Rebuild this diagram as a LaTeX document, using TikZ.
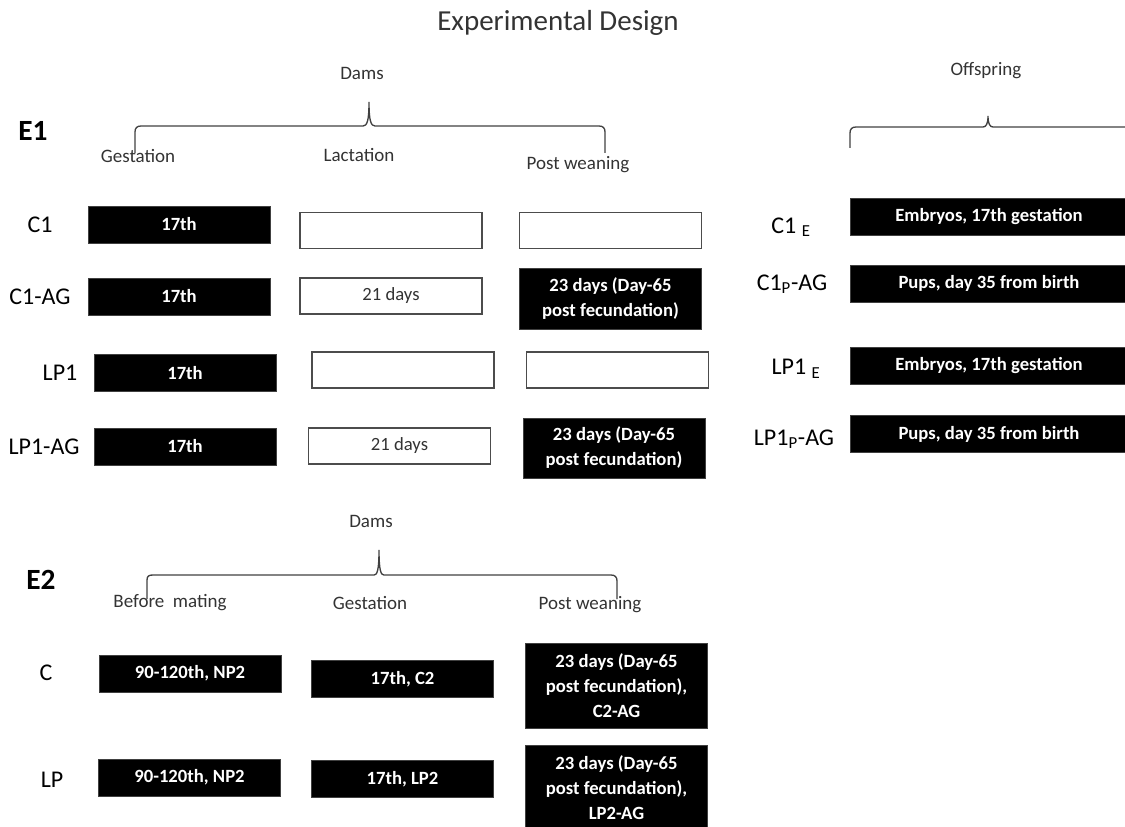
\documentclass[tikz,border=0pt]{standalone}
\usepackage{fontspec}
\setmainfont{Carlito}
\usepackage{tikz}

\newcommand{\ttlfont}{\fontsize{21.75}{26}\selectfont}
\newcommand{\hdfont}{\fontsize{14.25}{17}\selectfont}
\newcommand{\rowfont}{\fontsize{18}{21}\selectfont}
\newcommand{\exfont}{\fontsize{22}{26}\selectfont\bfseries}
\newcommand{\bxfont}{\fontsize{14}{18.75}\selectfont\bfseries}

\begin{document}
\begin{tikzpicture}[x=0.75pt,y=0.75pt,yscale=-1,xscale=1,
	blackbox/.style={draw=black!75,line width=0.6pt,fill=black,text=white,font=\bxfont,align=center,inner sep=0pt,minimum width=136.5pt,minimum height=27.75pt},
	whitebox/.style={draw=black!70,line width=1.1pt,fill=white,font=\fontsize{14}{17}\selectfont,text=black!80,inner sep=0pt,minimum width=136.5pt,minimum height=27pt},
	kidbox/.style={blackbox,minimum width=208pt},
	rowlab/.style={font=\rowfont,inner sep=0pt},
	headlab/.style={font=\hdfont,text=black!80,inner sep=0pt},
	brace/.style={draw=black!75,line width=1pt}]
				\useasboundingbox (0,0) rectangle (1125,827); %set diagram to 1125 x 827

				% Title
				\node (title) at (558,23) [font=\ttlfont,text=black!80,inner sep=0pt] {Experimental Design};

				%%% E1 %%%
				% Text Node
				\node (e1) at (33,131) [font=\exfont,inner sep=0pt] {E1};
				% Text Node
				\node (dams1) at (362,73) [headlab] {Dams};
				% Text Node
				\node (offs) at (986,71) [headlab] {Offspring};
				%Curve Lines: brace of dams
				\draw [brace] (135,153) -- (135,132) .. controls (135,128) and (137,126) .. (141,126) -- (363,126) .. controls (367,126) and (369,121) .. (369,102) .. controls (369,121) and (371,126) .. (375,126) -- (599,126) .. controls (603,126) and (605,128) .. (605,132) -- (605,153) ;
				%Curve Lines: brace of offspring
				\draw [brace] (850,148) -- (850,133) .. controls (850,129) and (852,127) .. (856,127) -- (983,127) .. controls (986,127) and (988,124) .. (988,116) .. controls (988,124) and (990,127) .. (993,127) -- (1130,127) ;
				% Text Node
				\node (gest1) at (138,156) [headlab] {Gestation};
				% Text Node
				\node (lact1) at (359,155) [headlab] {Lactation};
				% Text Node
				\node (post1) at (578,165) [headlab] {Post weaning};

				% Row C1
				\node (c1) at (40,225) [rowlab] {C1};
				\node (c1g) at (179,224.5) [blackbox] {17th};
				\node (c1l) at (391,230.5) [whitebox] {};
				\node (c1w) at (610.5,230.5) [whitebox] {};
				% Row C1-AG
				\node (c1ag) at (40,297) [rowlab] {C1-AG};
				\node (c1agg) at (179,296.5) [blackbox] {17th};
				\node (c1agl) at (391,296) [whitebox] {21 days};
				\node (c1agw) at (610.5,298.5) [blackbox,minimum height=45.75pt] {23 days (Day-65\\post fecundation)};
				% Row LP1
				\node (lp1) at (60,373) [rowlab] {LP1};
				\node (lp1g) at (185,373) [blackbox] {17th};
				\node (lp1l) at (403,370) [whitebox] {};
				\node (lp1w) at (617.5,370) [whitebox] {};
				% Row LP1-AG
				\node (lp1ag) at (44,447) [rowlab] {LP1-AG};
				\node (lp1agg) at (185,446.5) [blackbox] {17th};
				\node (lp1agl) at (399.5,446) [whitebox] {21 days};
				\node (lp1agw) at (614,448) [blackbox,minimum height=45pt] {23 days (Day-65\\post fecundation)};

				% Offspring rows
				\node (c1e) at (791,227) [rowlab] {C1 \textsubscript{E}};
				\node (c1eb) at (989,217) [kidbox] {Embryos, 17th gestation};
				\node (c1p) at (792,284) [rowlab] {C1\textsubscript{P}-AG};
				\node (c1pb) at (989,283.5) [kidbox] {Pups, day 35 from birth};
				\node (lp1e) at (796,369) [rowlab] {LP1 \textsubscript{E}};
				\node (lp1eb) at (989,365.5) [kidbox] {Embryos, 17th gestation};
				\node (lp1p) at (794,439) [rowlab] {LP1\textsubscript{P}-AG};
				\node (lp1pb) at (989,434) [kidbox] {Pups, day 35 from birth};

				%%% E2 %%%
				% Text Node
				\node (e2) at (41,580) [font=\exfont,inner sep=0pt] {E2};
				% Text Node
				\node (dams2) at (371,521) [headlab] {Dams};
				%Curve Lines: brace of dams
				\draw [brace] (147,599) -- (147,580) .. controls (147,576) and (149,575) .. (153,575) -- (374,575) .. controls (377,575) and (379,571) .. (379,550) .. controls (379,571) and (381,575) .. (384,575) -- (611,575) .. controls (615,575) and (617,577) .. (617,581) -- (617,599) ;
				% Text Node
				\node (before2) at (170,603) [headlab] {Before\ \ mating};
				% Text Node
				\node (gest2) at (370,603) [headlab] {Gestation};
				% Text Node
				\node (post2) at (590,605) [headlab] {Post weaning};

				% Row C
				\node (c) at (46,673) [rowlab] {C};
				\node (cb) at (190,673.5) [blackbox] {90-120th, NP2};
				\node (cg) at (402.5,679) [blackbox] {17th, C2};
				\node (cw) at (616.5,685.5) [blackbox,minimum height=63.75pt] {23 days (Day-65\\post fecundation),\\C2-AG};
				% Row LP
				\node (lp) at (52,780) [rowlab] {LP};
				\node (lpb) at (189.5,777.5) [blackbox] {90-120th, NP2};
				\node (lpg) at (402.5,779) [blackbox] {17th, LP2};
				\node (lpw) at (616.5,788) [blackbox,minimum height=64.5pt] {23 days (Day-65\\post fecundation),\\LP2-AG};

\end{tikzpicture}
\end{document}
